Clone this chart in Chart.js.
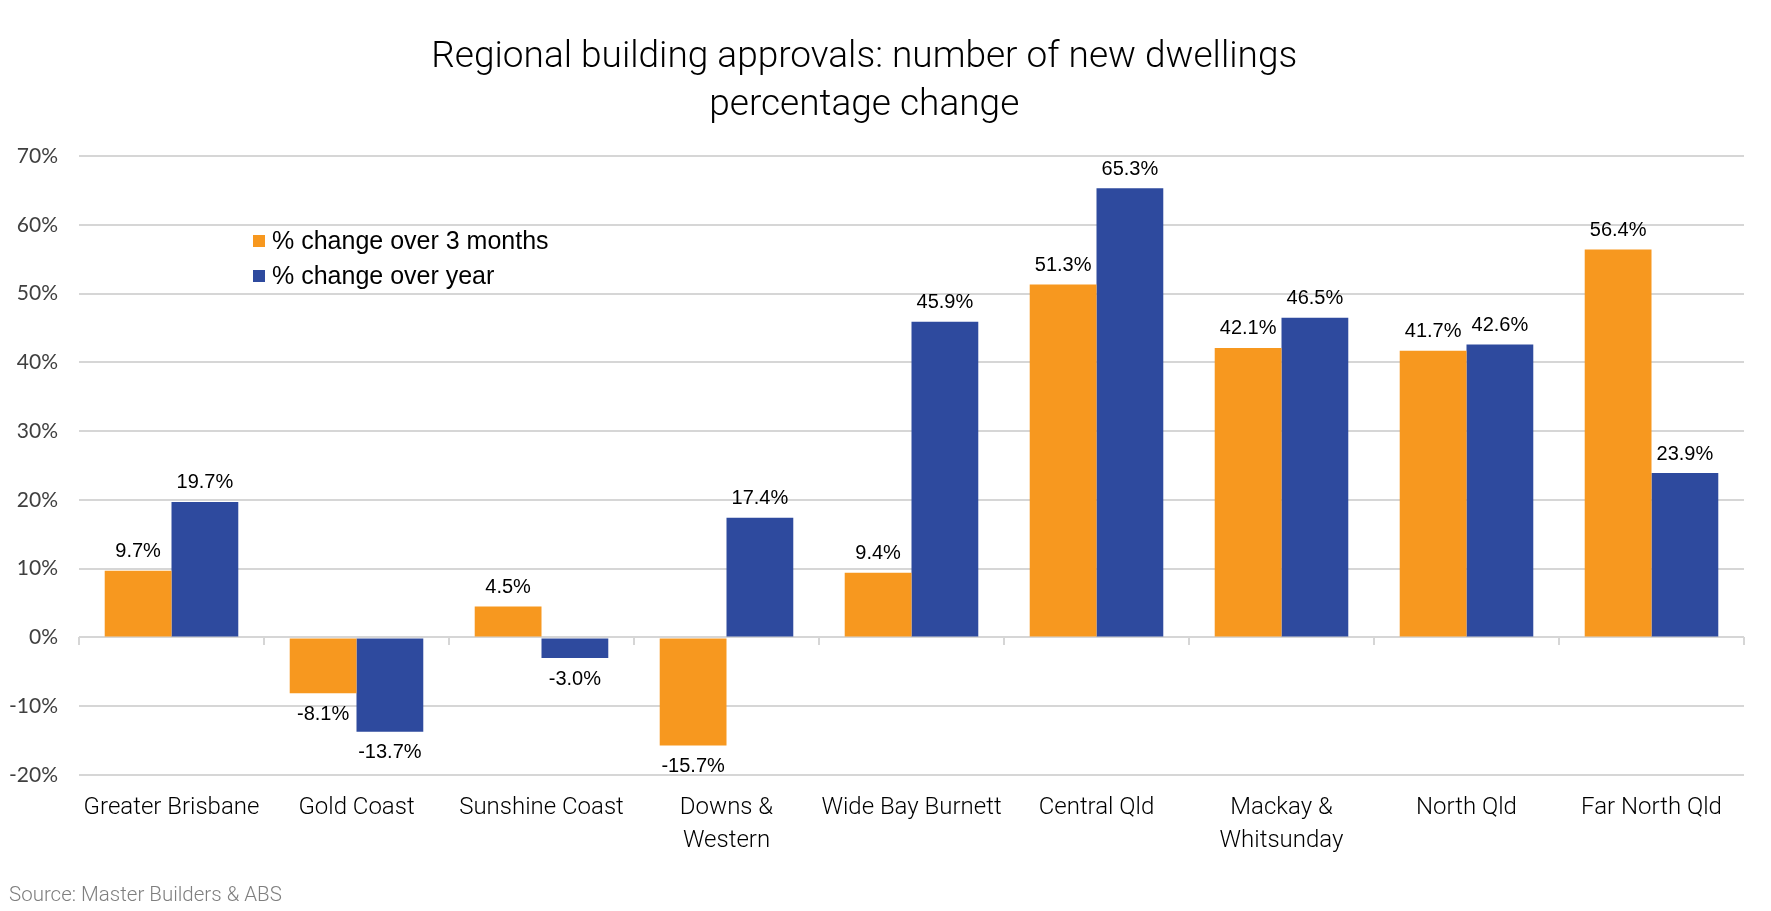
<!DOCTYPE html>
<html>
<head>
<meta charset="utf-8">
<title>Regional building approvals</title>
<script src="https://cdn.jsdelivr.net/npm/chart.js@4.4.1/dist/chart.umd.min.js"></script>
<style>
  html, body { margin: 0; padding: 0; background: #fff; }
  #wrap { width: 1771px; height: 911px; position: relative; }
</style>
</head>
<body>
<div id="wrap"><canvas id="myChart"></canvas></div>
<script>
// data
const regions = [
    'Greater Brisbane', 'Gold Coast', 'Sunshine Coast', ['Downs &', 'Western'],
    'Wide Bay Burnett', 'Central Qld', ['Mackay &', 'Whitsunday'], 'North Qld', 'Far North Qld'
];
const changeThreeMonths = [9.7, -8.1, 4.5, -15.7, 9.4, 51.3, 42.1, 41.7, 56.4];
const changeYear = [19.7, -13.7, -3.0, 17.4, 45.9, 65.3, 46.5, 42.6, 23.9];
const seriesNames = ['% change over 3 months', '% change over year'];
const yMin = -20, yMax = 70, yStep = 10;

const titleLines = ['Regional building approvals: number of new dwellings', 'percentage change'];
const sourceText = 'Source: Master Builders & ABS';

const ORANGE = '#f7981f';
const BLUE = '#2e4a9e';
const GRID = '#d6d6d6';
const condensed = 'Roboto, "Liberation Sans Narrow", sans-serif';

// title + source note, drawn in the blank margins
const textPlugin = {
    id: 'textPlugin',
    afterDraw(chart) {
        const ctx = chart.ctx;
        ctx.save();
        ctx.fillStyle = '#000';
        ctx.font = '300 37px ' + condensed;
        ctx.textAlign = 'center';
        ctx.textBaseline = 'alphabetic';
        const tx = chart.width * 0.488;
        titleLines.forEach((line, i) => ctx.fillText(line, tx, 67 + i * 48));

        ctx.fillStyle = '#7f7f7f';
        ctx.font = '300 20.5px ' + condensed;
        ctx.textAlign = 'left';
        ctx.fillText(sourceText, 9, 901);
        ctx.restore();
    }
};

// legend sits inside the plot, upper left
const legendPlugin = {
    id: 'legendInside',
    afterDraw(chart) {
        const ctx = chart.ctx;
        const ca = chart.chartArea;
        const lx = ca.left + 174, ly = ca.top + 85;
        ctx.save();
        chart.data.datasets.forEach((ds, i) => {
            const cy = ly + i * 35;
            ctx.fillStyle = ds.backgroundColor;
            ctx.fillRect(lx, cy - 6, 12, 12);
            ctx.fillStyle = '#000';
            ctx.font = '25px "Liberation Sans", Arial, sans-serif';
            ctx.textAlign = 'left';
            ctx.textBaseline = 'middle';
            ctx.fillText(ds.label, lx + 19, cy + 1);
        });
        ctx.restore();
    }
};

// value labels above / below each bar
const valueLabels = {
    id: 'valueLabels',
    afterDatasetsDraw(chart) {
        const ctx = chart.ctx;
        ctx.save();
        ctx.font = '20px "Liberation Sans", Arial, sans-serif';
        ctx.fillStyle = '#000';
        ctx.textAlign = 'center';
        ctx.textBaseline = 'middle';
        chart.data.datasets.forEach((ds, i) => {
            const meta = chart.getDatasetMeta(i);
            meta.data.forEach((bar, j) => {
                const v = ds.data[j];
                const y = v >= 0 ? bar.y - 19 : bar.y + 21;
                ctx.fillText(v.toFixed(1) + '%', bar.x, y);
            });
        });
        ctx.restore();
    }
};

const myChartRef = document.getElementById('myChart').getContext('2d');

new Chart(myChartRef, {
    type: 'bar',
    data: {
        labels: regions,
        datasets: [
            {
                label: seriesNames[0],
                data: changeThreeMonths,
                backgroundColor: ORANGE
            },
            {
                label: seriesNames[1],
                data: changeYear,
                backgroundColor: BLUE
            }
        ]
    },
    options: {
        responsive: true,
        maintainAspectRatio: false,
        animation: false,
        devicePixelRatio: 1,
        layout: {
            padding: {top: 156, right: 27, bottom: 0, left: 0}
        },
        datasets: {
            bar: {
                categoryPercentage: 0.722,
                barPercentage: 1.0
            }
        },
        plugins: {
            legend: {display: false},
            title: {display: false},
            tooltip: {enabled: false}
        },
        scales: {
            x: {
                position: 'bottom',
                grid: {display: false},
                border: {display: false},
                ticks: {
                    color: '#000',
                    padding: 8,
                    maxRotation: 0,
                    autoSkip: false,
                    font: {family: condensed, size: 24, weight: '300', lineHeight: 1.4}
                },
                afterFit: (s) => { s.height = 136; }
            },
            // second x axis only for the little tick marks on the 0% line
            x2: {
                type: 'category',
                position: {y: 0},
                offset: true,
                ticks: {display: false},
                border: {display: false},
                grid: {
                    offset: true,
                    drawOnChartArea: false,
                    drawTicks: true,
                    tickLength: 8,
                    color: GRID,
                    lineWidth: 2
                }
            },
            y: {
                min: yMin,
                max: yMax,
                border: {display: false},
                grid: {color: GRID, lineWidth: 2, drawTicks: false},
                ticks: {
                    stepSize: yStep,
                    padding: 21,
                    color: '#404040',
                    font: {family: 'Lato, "DejaVu Sans", sans-serif', size: 21},
                    callback: (v) => v + '%'
                },
                afterFit: (s) => { s.width = 79; }
            }
        }
    },
    plugins: [valueLabels, legendPlugin, textPlugin]
});
</script>
</body>
</html>
